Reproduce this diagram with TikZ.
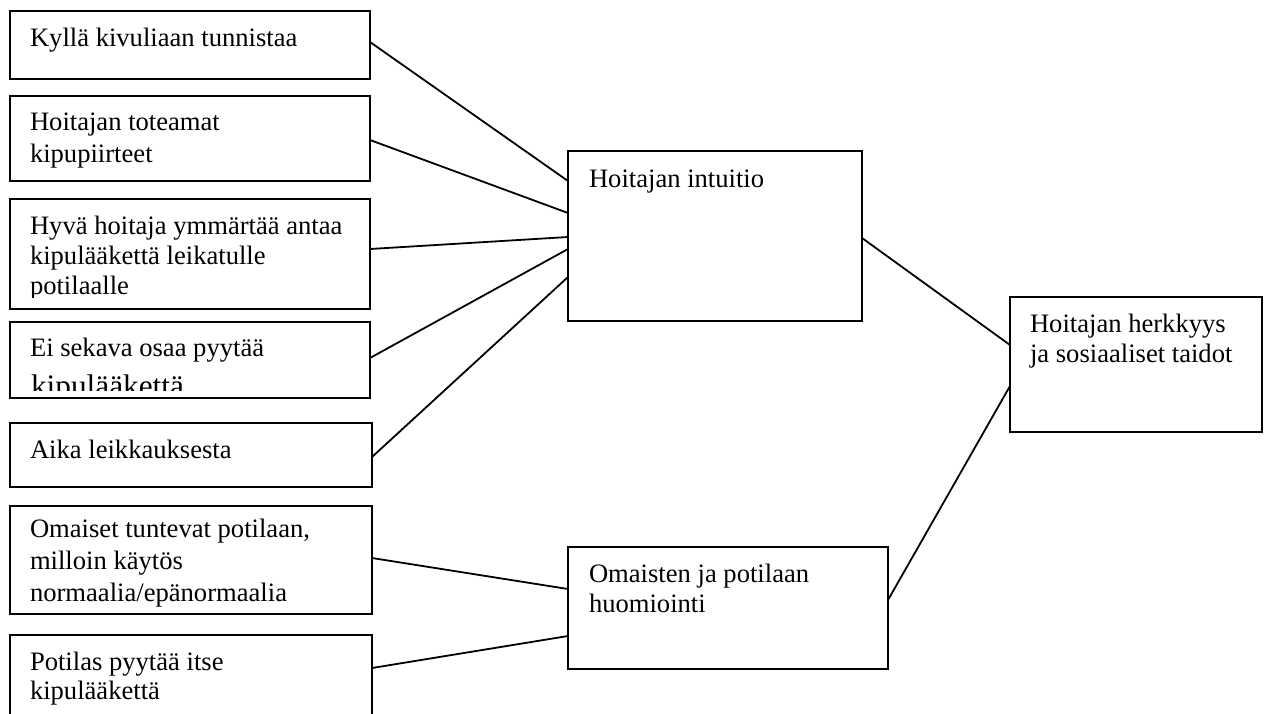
\documentclass[tikz,border=0pt]{standalone}
\usepackage{fontspec}
\setmainfont{Liberation Serif}
\usetikzlibrary{calc}
\tikzset{
  box/.style={draw, line width=1.9pt, anchor=north west, inner sep=0pt, outer sep=0pt},
  lbl/.style={anchor=base west, inner sep=0pt, outer sep=0pt, font=\fontsize{26.6}{31}\selectfont},
  conn/.style={line width=1.8pt}
}
\newcommand\mylines[2]{\parbox[t]{420pt}{\baselineskip=#1pt\relax #2}}
\begin{document}
\begin{tikzpicture}[x=1pt,y=-1pt]
\path[fill=white,use as bounding box] (0,0) rectangle (1264,713);
% left boxes
\node[box, minimum width=360pt, minimum height=68pt] (b1) at (10,11) {};
\node[box, minimum width=360pt, minimum height=85pt] (b2) at (10,96) {};
\node[box, minimum width=360pt, minimum height=110pt] (b3) at (10,199) {};
\node[box, minimum width=360pt, minimum height=76pt] (b4) at (10,322) {};
\node[box, minimum width=362pt, minimum height=64pt] (b5) at (10,423) {};
\node[box, minimum width=362pt, minimum height=108pt] (b6) at (10,506) {};
\node[box, minimum width=362pt, minimum height=100pt] (b7) at (10,635) {};
% middle and right boxes
\node[box, minimum width=294pt, minimum height=170pt] (int) at (568,151) {};
\node[box, minimum width=320pt, minimum height=122pt] (oma) at (568,547) {};
\node[box, minimum width=252pt, minimum height=135pt] (her) at (1010,297) {};
% texts
\node[lbl] (t1) at (30,46) {Kyllä kivuliaan tunnistaa};
\node[lbl] (t2) at (30,130) {\mylines{32}{Hoitajan toteamat\\kipupiirteet}};
\begin{scope}
  \clip (10,199) rectangle (370,297);
  \node[lbl] (t3) at (30,234) {\mylines{30}{Hyvä hoitaja ymmärtää antaa\\kipulääkettä leikatulle\\potilaalle}};
\end{scope}
\node[lbl] (t4) at (30,356) {Ei sekava osaa pyytää};
\begin{scope}
  \clip (10,330) rectangle (370,390);
  \node[lbl, font=\fontsize{31.3}{36}\selectfont] (t4b) at (31,396) {kipulääkettä};
\end{scope}
\node[lbl] (t5) at (30,458) {Aika leikkauksesta};
\node[lbl] (t6) at (30,537) {\mylines{32}{Omaiset tuntevat potilaan,\\milloin käytös\\normaalia/epänormaalia}};
\node[lbl] (t7) at (30,670) {\mylines{29}{Potilas pyytää itse\\kipulääkettä}};
\node[lbl] (t8) at (589,187) {Hoitajan intuitio};
\node[lbl] (t9) at (589,582) {\mylines{30}{Omaisten ja potilaan\\huomiointi}};
\node[lbl] (t10) at (1030,332) {\mylines{30}{Hoitajan herkkyys\\ja sosiaaliset taidot}};
% connectors
\draw[conn] ([yshift=3pt]b1.east) -- ([yshift=55pt]int.west);
\draw[conn] ([yshift=-1.5pt]b2.east) -- ([yshift=23pt]int.west);
\draw[conn] ([yshift=5pt]b3.east) -- ([yshift=-1pt]int.west);
\draw[conn] ([yshift=2pt]b4.east) -- ([yshift=-13pt]int.west);
\draw[conn] ([yshift=-2pt]b5.east) -- ([yshift=-41pt]int.west);
\draw[conn] ([yshift=2pt]b6.east) -- ([yshift=19pt]oma.west);
\draw[conn] ([yshift=-33pt]b7.north east) -- ([yshift=-28pt]oma.west);
\draw[conn] ([yshift=-2pt]int.east) -- ([yshift=19.5pt]her.west);
\draw[conn] ([yshift=8pt]oma.east) -- ([yshift=-21.5pt]her.west);
\end{tikzpicture}
\end{document}
